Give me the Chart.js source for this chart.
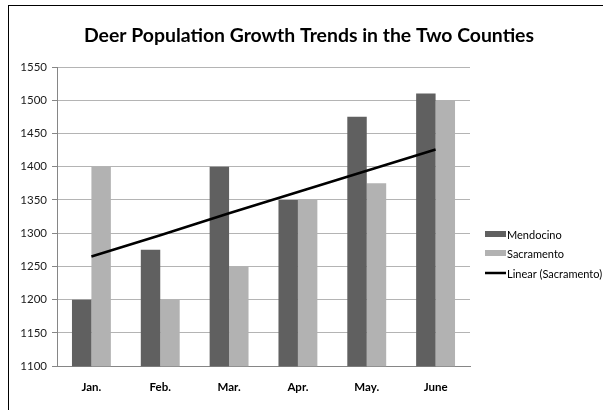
<!DOCTYPE html>
<html>
<head>
<meta charset="utf-8">
<script src="https://cdn.jsdelivr.net/npm/chart.js@4/dist/chart.umd.min.js"></script>
<style>
  html, body { margin: 0; padding: 0; background: #fff; }
  #wrap { position: absolute; left: 0; top: 0; width: 603px; height: 410px; }
  #frame { position: absolute; left: 8px; top: 5px; width: 620px; height: 430px; border: 1px solid #000; box-sizing: border-box; pointer-events: none; }
</style>
</head>
<body>
<div id="wrap"><canvas id="c" width="603" height="410"></canvas></div>
<div id="frame"></div>
<script>
const categories = ['Jan.', 'Feb.', 'Mar.', 'Apr.', 'May.', 'June'];
const mendocino = [1200, 1275, 1400, 1350, 1475, 1510];
const sacramento = [1400, 1200, 1250, 1350, 1375, 1500];
const trendSacramento = [1265, 1297, 1330, 1362, 1394, 1426];
const yTicks = { min: 1100, max: 1550, step: 50 };
const titleText = 'Deer Population Growth Trends in the Two Counties';
const legendOrder = ['Mendocino', 'Sacramento', 'Linear (Sacramento)'];

const FONT = 'Lato, "Open Sans", sans-serif';

const decorPlugin = {
  id: 'decor',
  afterDraw(chart) {
    const ctx = chart.ctx;
    ctx.save();
    // title
    ctx.fillStyle = '#000';
    ctx.font = 'bold 19.4px ' + FONT;
    ctx.textAlign = 'center';
    ctx.textBaseline = 'middle';
    ctx.fillText(titleText, 309, 36);
    // legend
    const x0 = chart.chartArea.right + 15;
    const ys = [234, 253, 273];
    legendOrder.forEach((lab, i) => {
      const ds = chart.data.datasets.find(d => d.label === lab);
      const y = ys[i];
      if (ds.type === 'line') {
        ctx.strokeStyle = ds.borderColor;
        ctx.lineWidth = 2.5;
        ctx.beginPath();
        ctx.moveTo(x0, y);
        ctx.lineTo(x0 + 21, y);
        ctx.stroke();
      } else {
        ctx.fillStyle = ds.backgroundColor;
        ctx.fillRect(x0, y - 3, 21, 6);
      }
      ctx.fillStyle = '#000';
      ctx.font = '11px ' + FONT;
      ctx.textBaseline = 'middle';
      ctx.textAlign = 'left';
      ctx.fillText(ds.label, x0 + 22, y + 1);
    });
    ctx.restore();
  }
};

new Chart(document.getElementById('c'), {
  type: 'bar',
  data: {
    labels: categories,
    datasets: [
      { type: 'line', label: 'Linear (Sacramento)', data: trendSacramento, borderColor: '#000', borderWidth: 2.5, pointRadius: 0, fill: false, order: 0 },
      { label: 'Mendocino', data: mendocino, backgroundColor: '#606060', order: 1 },
      { label: 'Sacramento', data: sacramento, backgroundColor: '#b2b2b2', order: 1 }
    ]
  },
  options: {
    responsive: false,
    animation: false,
    events: [],
    layout: { padding: { left: 10, right: 133, top: 67, bottom: 2 } },
    barPercentage: 1,
    categoryPercentage: 0.565,
    plugins: {
      legend: { display: false },
      tooltip: { enabled: false },
      title: { display: false }
    },
    scales: {
      x: {
        grid: { display: false, drawTicks: false, tickLength: 0 },
        border: { display: true, color: '#868686', width: 1 },
        ticks: { color: '#000', font: { family: FONT, size: 11.5, weight: 'bold' }, padding: 14 }
      },
      y: {
        min: yTicks.min,
        max: yTicks.max,
        afterFit(scale) { scale.width = 47; },
        grid: { color: '#b4b4b4', lineWidth: 1, tickLength: 5, tickColor: '#868686' },
        border: { display: true, color: '#868686', width: 1 },
        ticks: { stepSize: yTicks.step, color: '#1a1a1a', font: { family: FONT, size: 11.5 }, padding: 5, callback: v => String(v) }
      }
    }
  },
  plugins: [decorPlugin]
});
</script>
</body>
</html>
